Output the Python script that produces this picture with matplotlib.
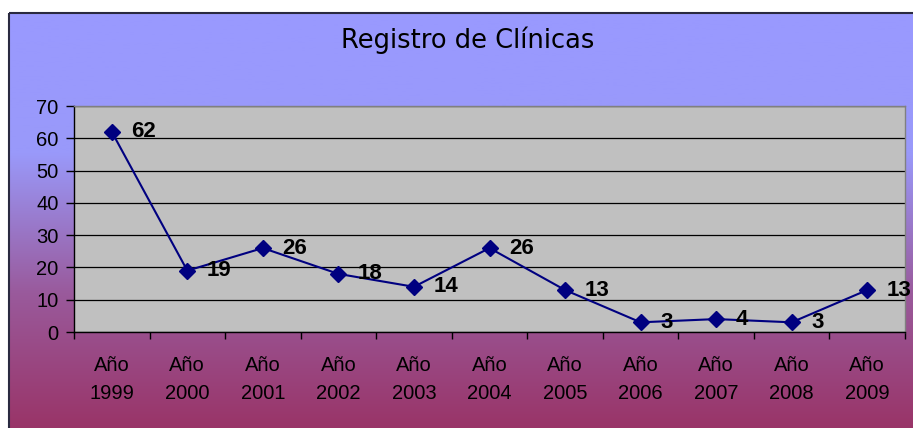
import matplotlib
matplotlib.use("Agg")
import matplotlib.pyplot as plt
import numpy as np
from matplotlib.colors import LinearSegmentedColormap
from matplotlib.patches import Rectangle

years = ["Año\n1999", "Año\n2000", "Año\n2001", "Año\n2002", "Año\n2003", "Año\n2004",
         "Año\n2005", "Año\n2006", "Año\n2007", "Año\n2008", "Año\n2009"]
clinicas = [62, 19, 26, 18, 14, 26, 13, 3, 4, 3, 13]

W, H = 913, 428
fig = plt.figure(figsize=(W / 100, H / 100), dpi=100, facecolor="white")

# gradient background of the chart frame (figure pixel coords)
bg = fig.add_axes([0, 0, 1, 1], zorder=0)
bg.set_xlim(0, W); bg.set_ylim(H, 0); bg.axis("off")
cmap = LinearSegmentedColormap.from_list("frame", ["#9999ff", "#9999fa", "#9a5a9c", "#993366"])
grad = np.linspace(0, 1, 256).reshape(-1, 1)
bg.imshow(grad, cmap=cmap, aspect="auto", extent=[9, W + 10, H + 5, 13], zorder=0)
bg.add_patch(Rectangle((9, 13), W, H, fill=False, edgecolor="#2a2a40", lw=1.5, zorder=1))
bg.text(468, 48, "Registro de Clínicas", ha="center", va="baseline", fontsize=18.5,
        family="DejaVu Sans", color="black")

ax = fig.add_axes([74 / W, 1 - 332 / H, (905 - 74) / W, (332 - 106) / H], zorder=1)
ax.set_facecolor("#c0c0c0")
x = np.arange(len(years))
ax.plot(x, clinicas, color="#000080", lw=1.5, marker="D", ms=8, mfc="#000080", mec="#000080",
        zorder=3)
for xi, v in zip(x, clinicas):
    ax.annotate(str(v), (xi, v), xytext=(14, 0), textcoords="offset points", ha="left",
                va="center", fontsize=16, fontweight="bold", family="Liberation Sans",
                annotation_clip=False)

ax.set_xlim(-0.5, len(years) - 0.5)
ax.set_ylim(0, 70)
ax.set_yticks(range(0, 71, 10))
ax.yaxis.grid(True, color="black", lw=0.9)
ax.set_axisbelow(True)
ax.set_xticks(x)
ax.set_xticklabels(years, fontsize=14.5, family="Liberation Sans", linespacing=1.62)
ax.set_xticks(np.arange(-0.5, len(years), 1), minor=True)
ax.tick_params(axis="x", which="major", length=0, pad=17)
ax.tick_params(axis="x", which="minor", length=5, width=1, direction="out")
ax.tick_params(axis="y", length=6, width=1, direction="out", pad=5, labelsize=14.5)
for lab in ax.get_yticklabels():
    lab.set_family("Liberation Sans")
for s in ax.spines.values():
    s.set_color("black"); s.set_linewidth(1)
ax.spines["top"].set_color("#808080")
ax.spines["right"].set_color("#808080")

fig.savefig("out.png", dpi=100, facecolor="white")
